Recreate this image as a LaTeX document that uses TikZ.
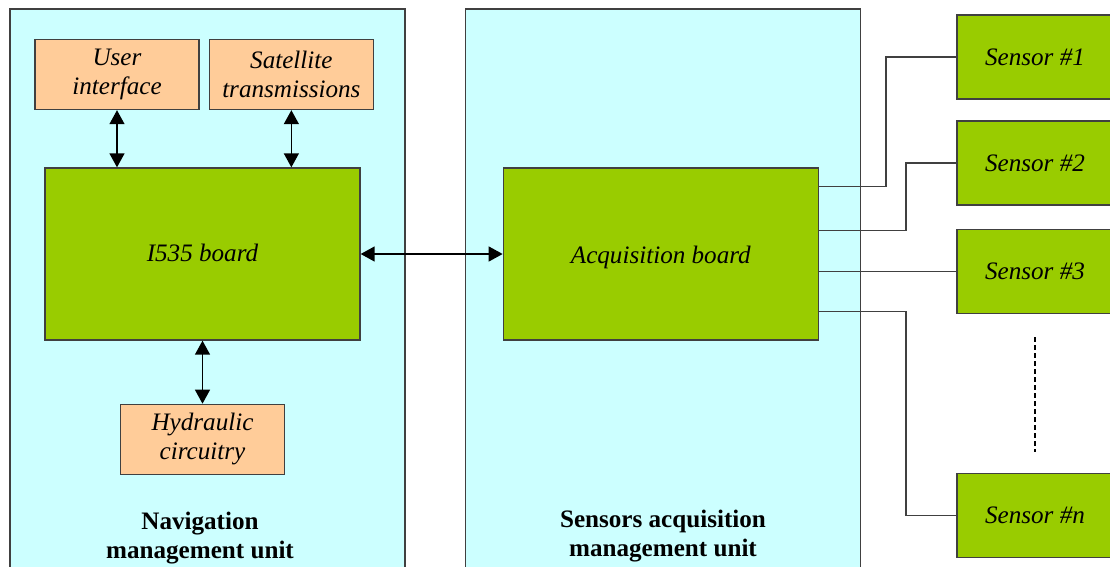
\documentclass[tikz,border=0pt]{standalone}
\usepackage{fontspec}
\setmainfont{Liberation Serif}
\usepackage{xcolor}
\definecolor{unitcyan}{RGB}{204,255,255}
\definecolor{boardgreen}{RGB}{153,204,0}
\definecolor{peach}{RGB}{255,204,153}
\definecolor{edgegray}{RGB}{64,64,64}
\usepackage{tikz}
\usetikzlibrary{arrows.meta,positioning,calc}

\begin{document}
\begin{tikzpicture}[
  x=0.02cm,y=-0.02cm,
  node distance=0.5cm,
  unitbox/.style={rectangle,draw=edgegray,line width=0.8pt,fill=unitcyan,minimum width=7.9cm,minimum height=11.6cm,inner sep=0pt},
  boardbox/.style={rectangle,draw=edgegray,line width=0.8pt,fill=boardgreen,minimum width=6.3cm,minimum height=3.44cm,inner sep=0pt,text depth=0.25em,font=\fontsize{14.3}{16.5}\selectfont\itshape},
  ibox/.style={rectangle,draw=edgegray,line width=0.8pt,fill=peach,minimum width=3.28cm,minimum height=1.4cm,inner sep=0pt,align=center,font=\fontsize{14.3}{16.5}\selectfont\itshape},
  sbox/.style={rectangle,draw=edgegray,line width=0.8pt,fill=boardgreen,minimum width=3.12cm,minimum height=1.68cm,inner sep=0pt,font=\fontsize{14.3}{16.5}\selectfont\itshape},
  ulabel/.style={align=center,font=\fontsize{14.3}{16.5}\selectfont\bfseries},
  arrow/.style={<->,>={Triangle[length=2.8mm,width=3mm]},line width=0.8pt,black},
  wire/.style={line width=0.8pt,edgegray}
]
  \useasboundingbox (0,0) rectangle (1110,566);

  % Units
  \node[unitbox] (nav) at (207.5,299) {};
  \node[unitbox] (sau) at (663,299) {};
  \node[ulabel] (navl) at (200,538) {Navigation\\management unit};
  \node[ulabel] (saul) at (663,536) {Sensors acquisition\\management unit};

  % Navigation side
  \node[boardbox,text height=1.07em] (i535) at (202.5,254) {I535 board};
  \node[ibox] (ui) at (117,74.5) {User\\interface};
  \node[ibox,right=0.18cm of ui] (sat) {Satellite\\transmissions};
  \node[ibox,below=1.26cm of i535] (hyd) {Hydraulic\\circuitry};

  % Acquisition side
  \node[boardbox,text height=1.31em,right=2.84cm of i535] (acq) {Acquisition board};

  % Sensors
  \node[sbox] (s1) at (1035,57) {Sensor \#1};
  \node[sbox,below=0.41cm of s1] (s2) {Sensor \#2};
  \node[sbox,below=0.47cm of s2] (s3) {Sensor \#3};
  \node[sbox,below=3.17cm of s3] (sn) {Sensor \#n};

  \draw[arrow] (ui) -- (ui |- i535.north);
  \draw[arrow] (sat) -- (sat |- i535.north);
  \draw[arrow] (i535) -- (hyd);
  \draw[arrow] (i535) -- (acq);

  \draw[wire] ($(acq.north east)+(0,19)$) -- ++(67,0) |- (s1.west);
  \draw[wire] ($(acq.north east)+(0,63)$) -- ++(87,0) |- (s2.west);
  \draw[wire] (acq.east |- s3) -- (s3.west);
  \draw[wire] ($(acq.north east)+(0,144)$) -- ++(87,0) |- (sn.west);
  \draw[line width=0.8pt,dash pattern=on 1mm off 0.6mm] ($(s3.south)+(0,23)$) -- ($(sn.north)+(0,-21)$);
\end{tikzpicture}
\end{document}
